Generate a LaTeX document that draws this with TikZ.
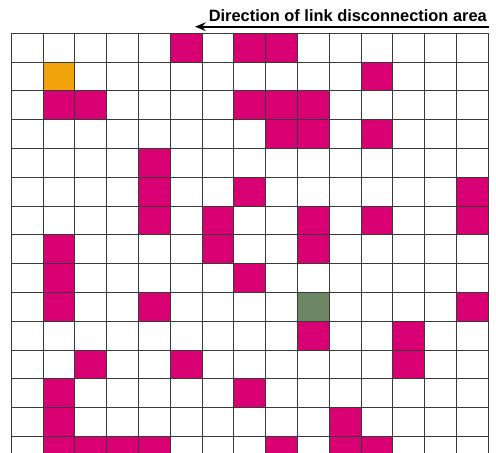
\documentclass[tikz,border=0pt]{standalone}
\usepackage{fontspec}
\setmainfont{Liberation Sans}
\usetikzlibrary{arrows.meta}
\definecolor{mag}{HTML}{D80073}
\definecolor{amber}{HTML}{F0A30A}
\definecolor{olive}{HTML}{6D8764}
\definecolor{gridc}{HTML}{3A3A3A}
\tikzset{
  cellfill/.style={fill=#1, draw=none},
  gridline/.style={draw=gridc, line width=0.7pt},
  dirarrow/.style={draw=black, line width=1.4pt, -{Stealth[length=8pt,width=6.5pt]}},
  dirlabel/.style={font=\fontsize{12.3pt}{14pt}\selectfont\bfseries, inner sep=0pt, anchor=base east}
}
\begin{document}
\begin{tikzpicture}[x=0.75pt,y=-0.75pt]
\useasboundingbox (0,0) rectangle (496,453);
\fill[white] (0,0) rectangle (496,453);
\begin{scope}
\clip (0,0) rectangle (496,453);
\def\xo{11.3}\def\dx{31.8}\def\yo{33.3}\def\dy{28.8}
% coloured cells: col/row/colour
\foreach \c/\r/\col in {
  5/0/mag,7/0/mag,8/0/mag,
  1/1/amber,11/1/mag,
  1/2/mag,2/2/mag,7/2/mag,8/2/mag,9/2/mag,
  8/3/mag,9/3/mag,11/3/mag,
  4/4/mag,
  4/5/mag,7/5/mag,14/5/mag,
  4/6/mag,6/6/mag,9/6/mag,11/6/mag,14/6/mag,
  1/7/mag,6/7/mag,9/7/mag,
  1/8/mag,7/8/mag,
  1/9/mag,4/9/mag,9/9/olive,14/9/mag,
  9/10/mag,12/10/mag,
  2/11/mag,5/11/mag,12/11/mag,
  1/12/mag,7/12/mag,
  1/13/mag,10/13/mag,
  1/14/mag,2/14/mag,3/14/mag,4/14/mag,8/14/mag,10/14/mag,11/14/mag}
  {\path[cellfill=\col] (\xo+\c*\dx,\yo+\r*\dy) rectangle (\xo+\c*\dx+\dx,\yo+\r*\dy+\dy);}
% grid lines
\foreach \i in {0,...,15}
  {\path[gridline] (\xo+\i*\dx,\yo) -- (\xo+\i*\dx,460);}
\foreach \j in {0,...,15}
  {\path[gridline] (\xo,\yo+\j*\dy) -- (\xo+15*\dx,\yo+\j*\dy);}
\end{scope}
% direction label and arrow
\node[dirlabel] (dirtext) at (487,21.5) {Direction of link disconnection area};
\coordinate (arrR) at (489,26.7);
\coordinate (arrL) at (195,26.7);
\path[dirarrow] (arrR) -- (arrL);
\end{tikzpicture}
\end{document}
